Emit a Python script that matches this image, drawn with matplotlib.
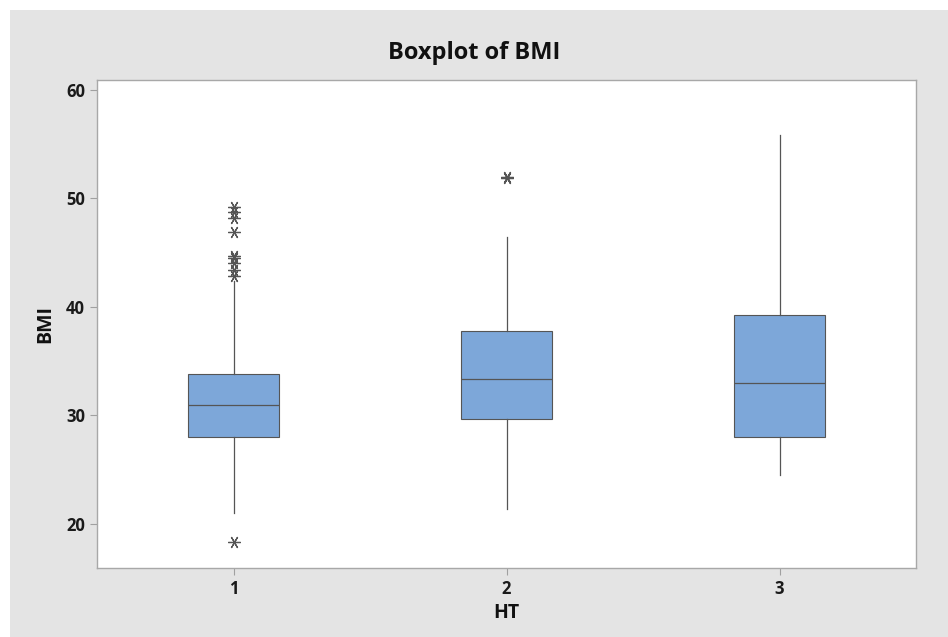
import matplotlib.pyplot as plt
from matplotlib.patches import Rectangle

# values
groups = ["1", "2", "3"]
q1 = [28.0, 29.6, 28.0]
med = [30.9, 33.3, 33.0]
q3 = [33.8, 37.75, 39.25]
wlo = [21.0, 21.3, 24.5]
whi = [42.4, 46.4, 55.85]
fliers = [
    [49.2, 48.7, 48.2, 46.9, 44.7, 44.5, 44.0, 43.4, 42.8, 18.3],
    [52.0, 51.9],
    [],
]

plt.rcParams['font.family'] = ['Open Sans', 'DejaVu Sans']

fig = plt.figure(figsize=(9.48, 6.37), dpi=100)
fig.patch.set_facecolor('#e4e4e4')
# thin white strips at top and left, as in the reference
fig.patches.append(Rectangle((0, 1 - 10 / 637), 1, 10 / 637, transform=fig.transFigure,
                             facecolor='white', edgecolor='none', zorder=-10))
fig.patches.append(Rectangle((0, 0), 10 / 948, 1, transform=fig.transFigure,
                             facecolor='white', edgecolor='none', zorder=-10))

ax = fig.add_axes([97 / 948, 1 - 568 / 637, (916 - 97) / 948, (568 - 80) / 637])
ax.set_facecolor('white')

stats = []
for i in range(len(groups)):
    stats.append(dict(med=med[i], q1=q1[i], q3=q3[i], whislo=wlo[i], whishi=whi[i],
                      fliers=fliers[i], label=groups[i]))

edge = '#555555'
ax.bxp(stats, positions=[1, 2, 3], widths=0.33, patch_artist=True, showcaps=False,
       boxprops=dict(facecolor='#7da7d9', edgecolor=edge, linewidth=0.8),
       medianprops=dict(color=edge, linewidth=0.9),
       whiskerprops=dict(color=edge, linewidth=0.9),
       flierprops=dict(marker=(6, 2, 90), markersize=9, markeredgecolor='#555555',
                       markeredgewidth=0.9, linestyle='none'))

ax.set_xlim(0.5, 3.5)
ax.set_ylim(15.9, 60.9)
ax.set_yticks([20, 30, 40, 50, 60])

for s in ax.spines.values():
    s.set_color('#a8a8a8')
    s.set_linewidth(1.0)
ax.tick_params(colors='#a0a0a0', labelcolor='#1a1a1a', labelsize=12, length=5)
for lab in ax.get_xticklabels() + ax.get_yticklabels():
    lab.set_fontweight('bold')

ax.set_xlabel('HT', fontsize=14, fontweight='bold', color='#111111', labelpad=4)
ax.set_ylabel('BMI', fontsize=14, fontweight='bold', color='#111111', labelpad=8)
fig.text(0.5, 1 - 53 / 637, 'Boxplot of BMI', ha='center', va='center',
         fontsize=17, fontweight='bold', color='#111111')

fig.savefig('out.png', dpi=100)
